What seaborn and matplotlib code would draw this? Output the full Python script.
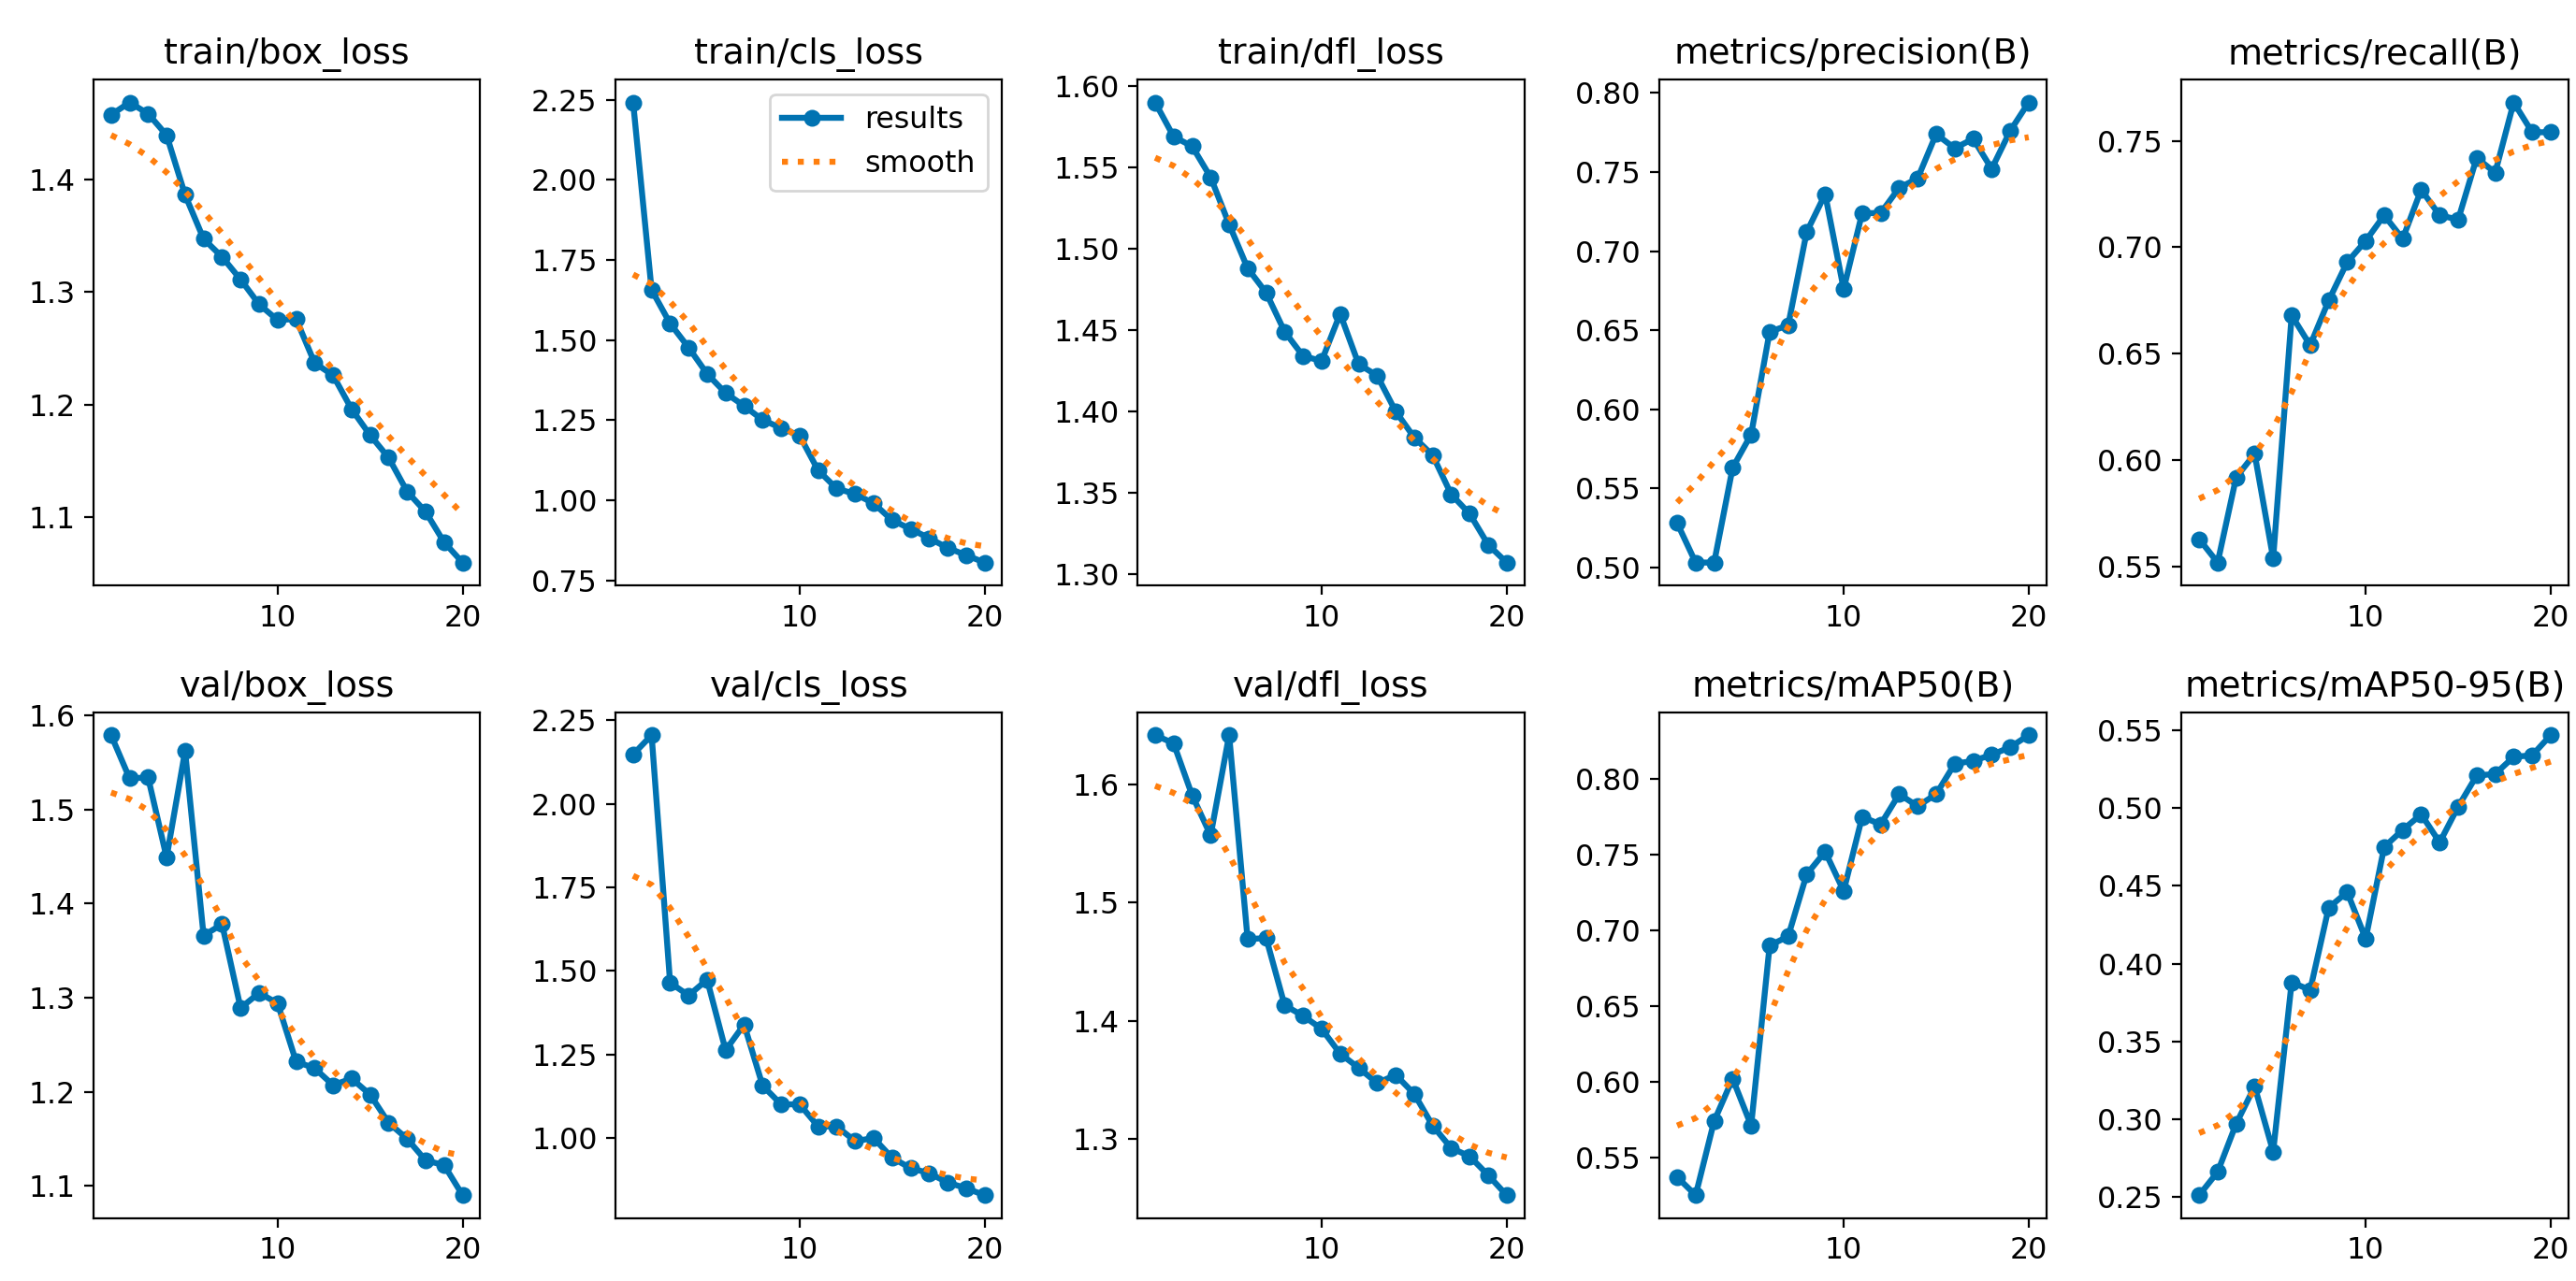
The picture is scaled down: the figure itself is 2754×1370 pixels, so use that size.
import matplotlib
matplotlib.use("Agg")
import matplotlib.pyplot as plt
import seaborn as sns

# epochs
epochs = list(range(1, 21))

titles = ["train/box_loss", "train/cls_loss", "train/dfl_loss", "metrics/precision(B)", "metrics/recall(B)",
          "val/box_loss", "val/cls_loss", "val/dfl_loss", "metrics/mAP50(B)", "metrics/mAP50-95(B)"]

# results
train_box = [1.457, 1.468, 1.458, 1.439, 1.386, 1.347, 1.331, 1.311, 1.289, 1.275,
             1.276, 1.237, 1.226, 1.196, 1.173, 1.153, 1.123, 1.105, 1.078, 1.060]
train_cls = [2.242, 1.657, 1.552, 1.477, 1.395, 1.335, 1.295, 1.251, 1.226, 1.202,
             1.094, 1.037, 1.020, 0.991, 0.938, 0.911, 0.882, 0.852, 0.829, 0.806]
train_dfl = [1.590, 1.569, 1.563, 1.544, 1.515, 1.488, 1.473, 1.449, 1.434, 1.431,
             1.460, 1.429, 1.422, 1.400, 1.384, 1.373, 1.349, 1.337, 1.318, 1.307]
precision = [0.528, 0.503, 0.503, 0.563, 0.584, 0.649, 0.653, 0.712, 0.736, 0.676,
             0.724, 0.724, 0.740, 0.746, 0.774, 0.765, 0.771, 0.752, 0.776, 0.794]
recall = [0.563, 0.552, 0.592, 0.603, 0.554, 0.668, 0.654, 0.675, 0.693, 0.703,
          0.715, 0.704, 0.727, 0.715, 0.713, 0.742, 0.735, 0.768, 0.754, 0.754]
val_box = [1.579, 1.533, 1.534, 1.449, 1.562, 1.366, 1.378, 1.289, 1.305, 1.294,
           1.232, 1.225, 1.207, 1.214, 1.197, 1.167, 1.150, 1.127, 1.122, 1.090]
val_cls = [2.148, 2.206, 1.465, 1.427, 1.474, 1.263, 1.340, 1.157, 1.101, 1.101,
           1.035, 1.035, 0.991, 1.000, 0.941, 0.910, 0.895, 0.867, 0.850, 0.829]
val_dfl = [1.642, 1.635, 1.591, 1.557, 1.642, 1.469, 1.470, 1.413, 1.404, 1.393,
           1.372, 1.360, 1.347, 1.354, 1.338, 1.311, 1.292, 1.285, 1.269, 1.252]
map50 = [0.537, 0.525, 0.574, 0.602, 0.571, 0.690, 0.696, 0.737, 0.752, 0.726,
         0.775, 0.770, 0.790, 0.782, 0.790, 0.810, 0.812, 0.816, 0.821, 0.829]
map50_95 = [0.251, 0.266, 0.297, 0.321, 0.279, 0.388, 0.383, 0.436, 0.446, 0.416,
            0.475, 0.486, 0.496, 0.478, 0.501, 0.521, 0.522, 0.533, 0.534, 0.547]

# smooth curves
train_box_s = [1.439, 1.431, 1.420, 1.406, 1.389, 1.371, 1.352, 1.332, 1.312, 1.292,
               1.272, 1.251, 1.231, 1.211, 1.191, 1.172, 1.154, 1.137, 1.120, 1.103]
train_cls_s = [1.705, 1.675, 1.620, 1.555, 1.480, 1.410, 1.345, 1.290, 1.240, 1.190,
               1.140, 1.090, 1.045, 1.005, 0.968, 0.935, 0.905, 0.882, 0.866, 0.857]
train_dfl_s = [1.556, 1.551, 1.543, 1.533, 1.520, 1.506, 1.490, 1.475, 1.460, 1.446,
               1.432, 1.419, 1.406, 1.394, 1.382, 1.371, 1.360, 1.350, 1.342, 1.336]
precision_s = [0.541, 0.553, 0.567, 0.580, 0.600, 0.628, 0.652, 0.671, 0.685, 0.697,
               0.712, 0.724, 0.734, 0.744, 0.752, 0.758, 0.763, 0.767, 0.770, 0.772]
recall_s = [0.582, 0.586, 0.593, 0.603, 0.615, 0.632, 0.651, 0.668, 0.681, 0.693,
            0.702, 0.710, 0.717, 0.724, 0.731, 0.737, 0.741, 0.745, 0.748, 0.750]
val_box_s = [1.518, 1.511, 1.499, 1.478, 1.451, 1.418, 1.384, 1.344, 1.318, 1.287,
             1.260, 1.236, 1.223, 1.200, 1.181, 1.167, 1.156, 1.145, 1.136, 1.132]
val_cls_s = [1.785, 1.758, 1.689, 1.602, 1.508, 1.421, 1.321, 1.222, 1.160, 1.110,
             1.060, 1.022, 0.991, 0.966, 0.941, 0.923, 0.904, 0.889, 0.879, 0.873]
val_dfl_s = [1.599, 1.593, 1.584, 1.567, 1.540, 1.510, 1.480, 1.449, 1.427, 1.403,
             1.383, 1.368, 1.353, 1.339, 1.325, 1.315, 1.304, 1.295, 1.288, 1.284]
map50_s = [0.571, 0.576, 0.586, 0.602, 0.621, 0.644, 0.673, 0.700, 0.720, 0.736,
           0.753, 0.765, 0.774, 0.783, 0.791, 0.799, 0.805, 0.810, 0.813, 0.816]
map50_95_s = [0.291, 0.296, 0.305, 0.318, 0.336, 0.357, 0.379, 0.403, 0.423, 0.443,
              0.459, 0.472, 0.483, 0.492, 0.502, 0.510, 0.517, 0.522, 0.526, 0.530]

results = [train_box, train_cls, train_dfl, precision, recall,
           val_box, val_cls, val_dfl, map50, map50_95]
smooths = [train_box_s, train_cls_s, train_dfl_s, precision_s, recall_s,
           val_box_s, val_cls_s, val_dfl_s, map50_s, map50_95_s]

x_ticks = [10, 20]
y_ticks = [[1.1, 1.2, 1.3, 1.4], [0.75, 1.00, 1.25, 1.50, 1.75, 2.00, 2.25],
           [1.30, 1.35, 1.40, 1.45, 1.50, 1.55, 1.60], [0.50, 0.55, 0.60, 0.65, 0.70, 0.75, 0.80],
           [0.55, 0.60, 0.65, 0.70, 0.75], [1.1, 1.2, 1.3, 1.4, 1.5, 1.6],
           [1.00, 1.25, 1.50, 1.75, 2.00, 2.25], [1.3, 1.4, 1.5, 1.6],
           [0.55, 0.60, 0.65, 0.70, 0.75, 0.80], [0.25, 0.30, 0.35, 0.40, 0.45, 0.50, 0.55]]
y_fmt = ["%.1f", "%.2f", "%.2f", "%.2f", "%.2f", "%.1f", "%.2f", "%.1f", "%.2f", "%.2f"]

plt.rcParams["font.size"] = 11.4
plt.rcParams["font.family"] = ["DejaVu Sans"]

fig, axs = plt.subplots(2, 5, figsize=(13.77, 6.85), dpi=200)
fig.subplots_adjust(left=0.0363, right=0.997, bottom=0.049, top=0.938, wspace=0.35, hspace=0.25)
axs = axs.ravel()

for i, ax in enumerate(axs):
    sns.lineplot(x=epochs, y=results[i], ax=ax, color="#0173b2", marker="o", markersize=6.5,
                 markeredgewidth=0, linewidth=2.3, label="results", legend=(i == 1))
    sns.lineplot(x=epochs, y=smooths[i], ax=ax, color="#ff7f0e", linestyle=":", linewidth=2.3,
                 label="smooth", legend=(i == 1))
    ax.set_title(titles[i], fontsize=13.7)
    ax.set_xlabel("")
    ax.set_ylabel("")
    ax.set_xticks(x_ticks)
    ax.set_yticks(y_ticks[i])
    ax.set_yticklabels([y_fmt[i] % v for v in y_ticks[i]])

axs[1].legend(loc="upper right")

fig.savefig("out.png", dpi=200)
